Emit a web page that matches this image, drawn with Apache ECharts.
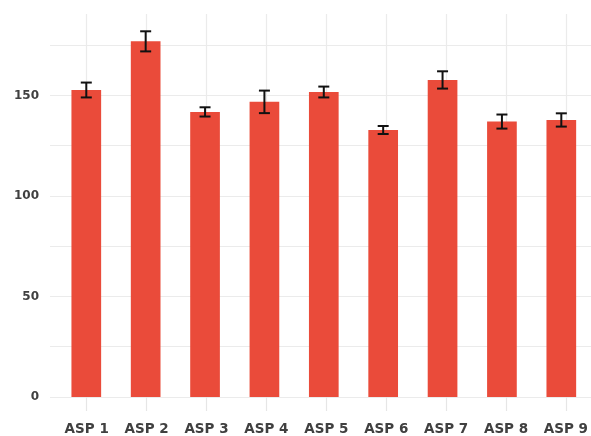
<!DOCTYPE html>
<html>
<head>
<meta charset="utf-8">
<script src="https://cdn.jsdelivr.net/npm/echarts@6/dist/echarts.min.js"></script>
<style>html,body{margin:0;padding:0;background:#fff;}#c{width:591px;height:436px;}</style>
</head>
<body>
<div id="c"></div>
<script>
var categories = ['ASP 1','ASP 2','ASP 3','ASP 4','ASP 5','ASP 6','ASP 7','ASP 8','ASP 9'];
var means = [152.7, 176.9, 141.8, 146.8, 151.7, 132.8, 157.7, 137.0, 137.8];
var errors = [3.7, 5.0, 2.3, 5.6, 2.7, 2.0, 4.3, 3.5, 3.3];
var yTicks = [0, 50, 100, 150];

var errData = means.map(function (m, i) { return [i, m - errors[i], m + errors[i]]; });
var yMax = 190.5;
var TOP = 14, BOTTOM = 39;
var chart = echarts.init(document.getElementById('c'));
chart.setOption({
  animation: false,
  backgroundColor: '#fff',
  grid: [
    { left: 50, top: TOP, bottom: BOTTOM, width: 560 },
    { left: 56.6, top: TOP, bottom: BOTTOM, width: 541.8 },
    { left: 86.7, top: TOP, bottom: BOTTOM, width: 481.6 }
  ],
  xAxis: [
    { gridIndex: 0, type: 'value', show: false, min: 0, max: 1 },
    { gridIndex: 1, type: 'category', data: categories, show: false },
    { gridIndex: 2, type: 'category', data: categories, boundaryGap: false, offset: 3,
      axisLine: { show: false },
      axisTick: { show: true, length: 15, lineStyle: { color: '#e6e6e6', width: 1.2 } },
      axisLabel: { margin: 23, color: '#404040', fontFamily: 'DejaVu Sans', fontWeight: 'bold', fontSize: 13.5 },
      splitLine: { show: true, lineStyle: { color: '#ebebeb', width: 1.2 } }
    }
  ],
  yAxis: [
    { gridIndex: 0, type: 'value', min: 0, max: yMax, interval: 25,
      axisLine: { show: false }, axisTick: { show: false },
      axisLabel: { margin: 11, color: '#404040', fontFamily: 'DejaVu Sans', fontWeight: 'bold', fontSize: 12,
        showMaxLabel: false,
        formatter: function (v) { return yTicks.indexOf(v) >= 0 ? String(v) : ''; } },
      splitLine: { show: true, showMaxLine: false, lineStyle: { color: '#ebebeb', width: 1.2 } }
    },
    { gridIndex: 1, type: 'value', min: 0, max: yMax, show: false, splitLine: { show: false } },
    { gridIndex: 2, type: 'value', min: 0, max: yMax, show: false, splitLine: { show: false } }
  ],
  series: [
    { type: 'bar', xAxisIndex: 1, yAxisIndex: 1, data: means, barWidth: '50%',
      itemStyle: { color: '#ea4b3a' }, z: 3 },
    { type: 'custom', xAxisIndex: 1, yAxisIndex: 1, data: errData, z: 5,
      renderItem: function (params, api) {
        var x = api.value(0);
        var lo = api.coord([x, api.value(1)]);
        var hi = api.coord([x, api.value(2)]);
        var hw = 5.5;
        var style = { stroke: '#111', lineWidth: 2, fill: null };
        return { type: 'group', children: [
          { type: 'line', shape: { x1: lo[0], y1: lo[1], x2: hi[0], y2: hi[1] }, style: style },
          { type: 'line', shape: { x1: lo[0] - hw, y1: lo[1], x2: lo[0] + hw, y2: lo[1] }, style: style },
          { type: 'line', shape: { x1: hi[0] - hw, y1: hi[1], x2: hi[0] + hw, y2: hi[1] }, style: style }
        ] };
      }
    }
  ]
});
</script>
</body>
</html>
